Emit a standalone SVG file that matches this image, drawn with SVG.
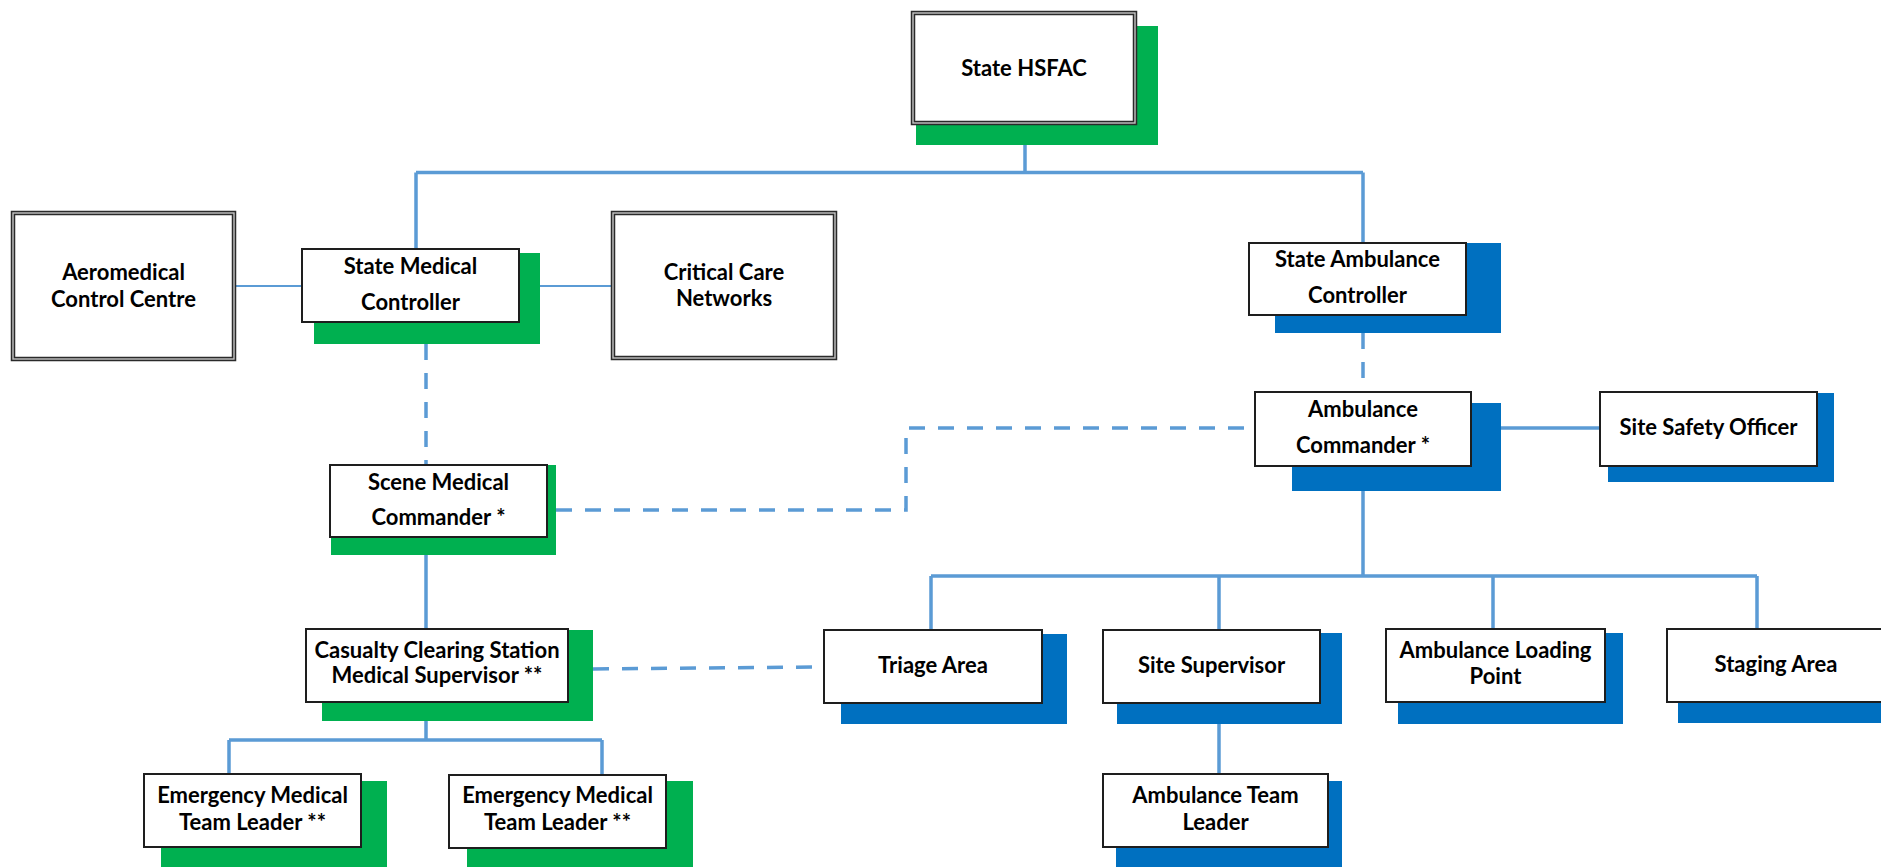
<svg xmlns="http://www.w3.org/2000/svg" width="1881" height="867" viewBox="0 0 1881 867">
<style>
.sg{fill:#00B050}
.sb{fill:#0070C0}
.box{fill:#fff;stroke:#1e1e1e;stroke-width:2}
.dbo{fill:#fff;stroke:#2a2a2a;stroke-width:4.5}
.dbi{fill:none;stroke:#c4c4c4;stroke-width:1.4}
.t{font-family:Lato,"Liberation Sans",sans-serif;font-weight:700;font-size:22px;fill:#000;text-anchor:middle}
.c{stroke:#5B9BD5;stroke-width:3.5;fill:none}
.thin{stroke-width:2}
.d{stroke-dasharray:16 13}
</style>
<rect width="1881" height="867" fill="#fff"/>
<g id="connectors">
<path class="c" d="M1025 140V172.5M416 172.5H1363M416 172.5V249M1363 172.5V243"/>
<path class="c thin" d="M234 286H302M519 286H613"/>
<path class="c d" d="M426 344V465"/>
<path class="c d" d="M1363 333V392"/>
<path class="c d" d="M556 510H906V428H1255"/>
<path class="c" d="M1501 428H1600"/>
<path class="c" d="M1363 491V576M931 576H1757M931 576V630M1219 576V630M1493 576V629M1757 576V629"/>
<path class="c" d="M426 555V629"/>
<path class="c d" d="M593 669L824 667"/>
<path class="c" d="M426 721V740M229 740H602M229 740V774M602 740V775"/>
<path class="c" d="M1219 724V774"/>
</g>
<g id="state-hsfac">
<rect class="sg" x="916" y="26" width="242" height="119"/>
<rect class="dbo" x="913" y="13" width="222" height="110"/>
<rect class="dbi" x="913" y="13" width="222" height="110"/>
<text class="t" x="1024" y="76">State HSFAC</text>
</g>
<g id="aeromedical">
<rect class="dbo" x="13" y="213" width="221" height="146"/>
<rect class="dbi" x="13" y="213" width="221" height="146"/>
<text class="t" x="123.5" y="280">Aeromedical</text>
<text class="t" x="123.5" y="307">Control Centre</text>
</g>
<g id="critical-care">
<rect class="dbo" x="613" y="213" width="222" height="145"/>
<rect class="dbi" x="613" y="213" width="222" height="145"/>
<text class="t" x="724" y="280">Critical Care</text>
<text class="t" x="724" y="306">Networks</text>
</g>
<g id="state-medical-controller">
<rect class="sg" x="314" y="253" width="226" height="91"/>
<rect class="box" x="302" y="249" width="217" height="73"/>
<text class="t" x="410.5" y="274">State Medical</text>
<text class="t" x="410.5" y="310">Controller</text>
</g>
<g id="state-ambulance-controller">
<rect class="sb" x="1275" y="243" width="226" height="90"/>
<rect class="box" x="1249" y="243" width="217" height="72"/>
<text class="t" x="1357.5" y="267">State Ambulance</text>
<text class="t" x="1357.5" y="303">Controller</text>
</g>
<g id="ambulance-commander">
<rect class="sb" x="1292" y="403" width="209" height="88"/>
<rect class="box" x="1255" y="392" width="216" height="74"/>
<text class="t" x="1363" y="417">Ambulance</text>
<text class="t" x="1363" y="453">Commander *</text>
</g>
<g id="site-safety-officer">
<rect class="sb" x="1608" y="393" width="226" height="89"/>
<rect class="box" x="1600" y="392" width="217" height="74"/>
<text class="t" x="1708.5" y="435">Site Safety Officer</text>
</g>
<g id="scene-medical-commander">
<rect class="sg" x="331" y="465" width="225" height="90"/>
<rect class="box" x="330" y="465" width="217" height="72"/>
<text class="t" x="438.5" y="490">Scene Medical</text>
<text class="t" x="438.5" y="525">Commander *</text>
</g>
<g id="ccs-medical-supervisor">
<rect class="sg" x="322" y="630" width="271" height="91"/>
<rect class="box" x="306" y="629" width="262" height="73"/>
<text class="t" x="437" y="658">Casualty Clearing Station</text>
<text class="t" x="437" y="683">Medical Supervisor **</text>
</g>
<g id="triage-area">
<rect class="sb" x="841" y="634" width="226" height="90"/>
<rect class="box" x="824" y="630" width="218" height="73"/>
<text class="t" x="933" y="673">Triage Area</text>
</g>
<g id="site-supervisor">
<rect class="sb" x="1117" y="633" width="225" height="91"/>
<rect class="box" x="1103" y="630" width="217" height="73"/>
<text class="t" x="1211.5" y="673">Site Supervisor</text>
</g>
<g id="ambulance-loading-point">
<rect class="sb" x="1398" y="633" width="225" height="91"/>
<rect class="box" x="1386" y="629" width="219" height="73"/>
<text class="t" x="1495.5" y="658">Ambulance Loading</text>
<text class="t" x="1495.5" y="684">Point</text>
</g>
<g id="staging-area">
<rect class="sb" x="1678" y="633" width="230" height="90"/>
<rect class="box" x="1667" y="629" width="218" height="73"/>
<text class="t" x="1776" y="672">Staging Area</text>
</g>
<g id="emtl-1">
<rect class="sg" x="161" y="781" width="226" height="95"/>
<rect class="box" x="144" y="774" width="217" height="73"/>
<text class="t" x="252.5" y="803">Emergency Medical</text>
<text class="t" x="252.5" y="830">Team Leader **</text>
</g>
<g id="emtl-2">
<rect class="sg" x="467" y="781" width="226" height="95"/>
<rect class="box" x="449" y="775" width="217" height="73"/>
<text class="t" x="557.5" y="803">Emergency Medical</text>
<text class="t" x="557.5" y="830">Team Leader **</text>
</g>
<g id="ambulance-team-leader">
<rect class="sb" x="1116" y="781" width="226" height="95"/>
<rect class="box" x="1103" y="774" width="225" height="73"/>
<text class="t" x="1215.5" y="803">Ambulance Team</text>
<text class="t" x="1215.5" y="830">Leader</text>
</g>
</svg>
